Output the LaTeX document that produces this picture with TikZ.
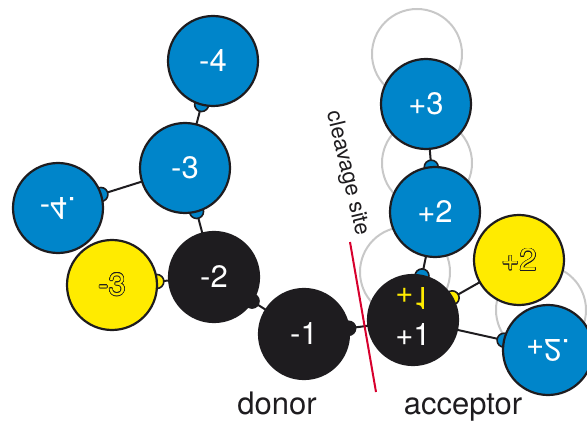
\documentclass[tikz,border=0pt]{standalone}
\usepackage{fontspec}
\setmainfont{TeX Gyre Heros}
\usepackage{graphicx}
\usepackage{contour}
\contourlength{0.55pt}
\usetikzlibrary{calc,backgrounds}
\definecolor{bluec}{RGB}{0,133,202}
\definecolor{yellowc}{RGB}{255,235,0}
\definecolor{blackc}{RGB}{30,28,31}
\definecolor{greyc}{RGB}{200,200,200}
\definecolor{redc}{RGB}{215,0,45}
\tikzset{
  res/.style={circle,draw=blackc,line width=2.2pt,minimum size=90pt,inner sep=0pt,
    font=\fontsize{31}{31}\selectfont},
  blueres/.style={res,fill=bluec,text=white},
  yellowres/.style={res,fill=yellowc},
  blackres/.style={res,fill=blackc,text=white},
  ghost/.style={circle,draw=greyc,line width=2pt,minimum size=90pt,inner sep=0pt},
  link/.style={draw=blackc,line width=2pt},
  bump/.style={circle,draw=blackc,line width=1.6pt,minimum size=14pt,inner sep=0pt,fill=#1},
  lbl/.style={font=\fontsize{31}{31}\selectfont,text=blackc},
}
\newcommand{\outl}[1]{\contour{blackc}{\textcolor{yellowc}{#1}}}
\begin{document}
\begin{tikzpicture}[x=1pt,y=-1pt]
\useasboundingbox (0,0) rectangle (587,425);
% residues
\node[blueres] (m4) at (213,61) {-4};
\node[blueres] (m3) at (185,168) {-3};
\node[blueres] (m4p) at (58,208) {\scalebox{1}[-1]{-4.}};
\node[yellowres] (m3y) at (112,285) {\outl{-3}};
\node[blackres] (m2) at (214,277) {-2};
\node[blackres] (m1) at (304,334) {-1};
\node[blackres] (p1) at (413,320) {};
\node[text=yellowc,font=\fontsize{31}{31}\selectfont] (p1y) at (413,298) {\scalebox{1}[-1]{+1}};
\node[text=white,font=\fontsize{31}{31}\selectfont] (p1w) at (413,335) {+1};
\node[blueres] (p2) at (435,212) {+2};
\node[blueres] (p3) at (426,104) {+3};
\node[yellowres] (p2y) at (519,260) {\outl{+2}};
\node[blueres] (p2p) at (548,350) {\scalebox{1}[-1]{+2.}};
% background: ghosts, links, bumps
\begin{scope}[on background layer]
\node[ghost] (g1) at (417,54) {};
\node[ghost] (g2) at (427,163) {};
\node[ghost] (g3) at (405,272) {};
\node[ghost] (g4) at (541,310) {};
\draw[link] (m4.center) -- (m3.center);
\draw[link] (m4p.center) -- (m3.center);
\draw[link] (m3.center) -- (m2.center);
\draw[link] (m3y.center) -- (m2.center);
\draw[link] (m2.center) -- (m1.center);
\draw[link] (m1.center) -- (p1.center);
\draw[link] (p1.center) -- (p2.center);
\draw[link] (p1.center) -- (p2y.center);
\draw[link] (p1.center) -- (p2p.center);
\draw[link] (p2.center) -- (p3.center);
\node[bump=bluec] (b1) at ($(m4)!45pt!(m3)$) {};
\node[bump=bluec] (b2) at ($(m4p)!45pt!(m3)$) {};
\node[bump=bluec] (b3) at ($(m3)!45pt!(m2)$) {};
\node[bump=yellowc] (b4) at ($(m3y)!45pt!(m2)$) {};
\node[bump=blackc] (b5) at ($(m2)!45pt!(m1)$) {};
\node[bump=blackc] (b6) at ($(m1)!45pt!(p1)$) {};
\node[bump=bluec] (b7) at ($(p1)!45pt!(p2)$) {};
\node[bump=yellowc] (b8) at ($(p1)!45pt!(p2y)$) {};
\node[bump=bluec] (b9) at ($(p2p)!45pt!(p1)$) {};
\node[bump=bluec] (b10) at ($(p2)!45pt!(p3)$) {};
\end{scope}
% cleavage site
\coordinate (c1) at (350,242);
\coordinate (c2) at (376,392);
\draw[draw=redc,line width=2pt] (c1) -- (c2);
\node[font=\fontsize{22}{22}\selectfont,text=blackc,rotate=-76.5,anchor=south east,inner sep=1pt] (cs) at (351,239) {cleavage site};
\node[lbl] (donor) at (277,403) {donor};
\node[lbl] (acc) at (463,408) {acceptor};
\end{tikzpicture}
\end{document}
